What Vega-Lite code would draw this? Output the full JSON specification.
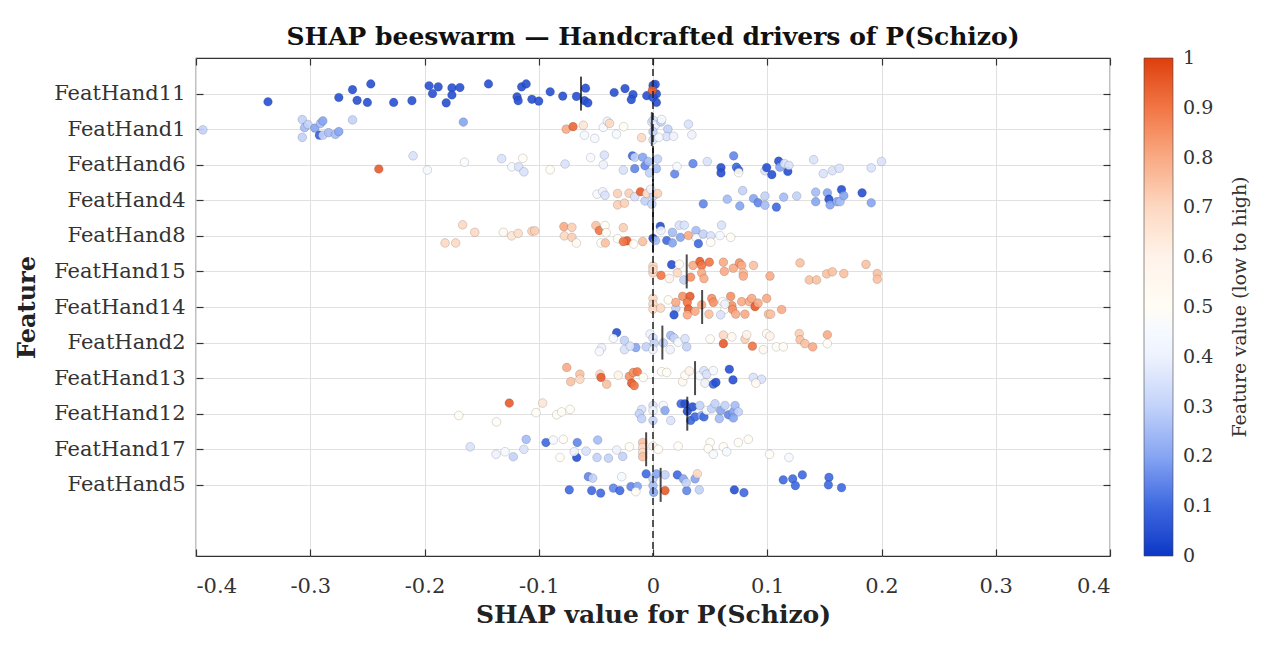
{
"$schema":"https://vega.github.io/schema/vega-lite/v6.json",
"autosize":{"type":"none"},
"padding":{"left":196,"top":58,"right":157,"bottom":89},
"width":914,"height":498,
"title":{"text":"SHAP beeswarm — Handcrafted drivers of P(Schizo)","font":"DejaVu Serif","fontSize":25,"fontWeight":"bold","color":"#111","anchor":"middle","frame":"group","offset":7},
"config":{
 "font":"DejaVu Serif",
 "view":{"stroke":"#333","strokeWidth":1.2},
 "axis":{"labelFont":"DejaVu Serif","titleFont":"DejaVu Serif","labelColor":"#333","titleColor":"#222","gridColor":"#e0e0e0","gridWidth":1,"domain":false,"tickColor":"#333","tickSize":-7,"tickWidth":1.2}
},
"datasets":{
"means":[
{"feature":"FeatHand11","mean":-0.063},{"feature":"FeatHand1","mean":-0.001},{"feature":"FeatHand6","mean":0.0},{"feature":"FeatHand4","mean":0.0},{"feature":"FeatHand8","mean":0.0},{"feature":"FeatHand15","mean":0.0295},{"feature":"FeatHand14","mean":0.043},{"feature":"FeatHand2","mean":0.0082},{"feature":"FeatHand13","mean":0.0368},{"feature":"FeatHand12","mean":0.030},{"feature":"FeatHand17","mean":-0.006},{"feature":"FeatHand5","mean":0.0067}
],
"pts":[
{"feature":"FeatHand11","shap":-0.337,"jit":-0.23,"val":0.05},
{"feature":"FeatHand11","shap":-0.275,"jit":-0.11,"val":0.05},
{"feature":"FeatHand11","shap":-0.263,"jit":0.11,"val":0.05},
{"feature":"FeatHand11","shap":-0.259,"jit":-0.19,"val":0.05},
{"feature":"FeatHand11","shap":-0.247,"jit":0.27,"val":0.05},
{"feature":"FeatHand11","shap":-0.25,"jit":-0.25,"val":0.05},
{"feature":"FeatHand11","shap":-0.227,"jit":-0.25,"val":0.05},
{"feature":"FeatHand11","shap":-0.211,"jit":-0.2,"val":0.05},
{"feature":"FeatHand11","shap":-0.196,"jit":0.22,"val":0.05},
{"feature":"FeatHand11","shap":-0.188,"jit":0.19,"val":0.05},
{"feature":"FeatHand11","shap":-0.193,"jit":0.0,"val":0.05},
{"feature":"FeatHand11","shap":-0.181,"jit":-0.26,"val":0.05},
{"feature":"FeatHand11","shap":-0.176,"jit":0.16,"val":0.05},
{"feature":"FeatHand11","shap":-0.176,"jit":-0.04,"val":0.05},
{"feature":"FeatHand11","shap":-0.169,"jit":0.17,"val":0.05},
{"feature":"FeatHand11","shap":-0.144,"jit":0.27,"val":0.05},
{"feature":"FeatHand11","shap":-0.119,"jit":-0.09,"val":0.05},
{"feature":"FeatHand11","shap":-0.118,"jit":-0.2,"val":0.05},
{"feature":"FeatHand11","shap":-0.115,"jit":0.19,"val":0.05},
{"feature":"FeatHand11","shap":-0.111,"jit":0.27,"val":0.05},
{"feature":"FeatHand11","shap":-0.106,"jit":-0.16,"val":0.05},
{"feature":"FeatHand11","shap":-0.1,"jit":-0.21,"val":0.05},
{"feature":"FeatHand11","shap":-0.09,"jit":0.05,"val":0.05},
{"feature":"FeatHand11","shap":-0.079,"jit":-0.07,"val":0.05},
{"feature":"FeatHand11","shap":-0.067,"jit":-0.08,"val":0.05},
{"feature":"FeatHand11","shap":-0.059,"jit":0.15,"val":0.05},
{"feature":"FeatHand11","shap":-0.06,"jit":-0.2,"val":0.05},
{"feature":"FeatHand11","shap":-0.057,"jit":-0.26,"val":0.05},
{"feature":"FeatHand11","shap":-0.034,"jit":0.03,"val":0.05},
{"feature":"FeatHand11","shap":-0.0245,"jit":0.14,"val":0.05},
{"feature":"FeatHand11","shap":-0.0175,"jit":-0.03,"val":0.05},
{"feature":"FeatHand11","shap":-0.019,"jit":-0.17,"val":0.05},
{"feature":"FeatHand11","shap":-0.0055,"jit":-0.06,"val":0.05},
{"feature":"FeatHand11","shap":0.0,"jit":0.23,"val":0.05},
{"feature":"FeatHand11","shap":0.002,"jit":0.26,"val":0.05},
{"feature":"FeatHand11","shap":0.003,"jit":-0.01,"val":0.05},
{"feature":"FeatHand11","shap":0.0,"jit":-0.11,"val":0.05},
{"feature":"FeatHand11","shap":0.003,"jit":-0.25,"val":0.05},
{"feature":"FeatHand11","shap":-0.0006,"jit":0.09,"val":0.95},
{"feature":"FeatHand1","shap":-0.394,"jit":-0.02,"val":0.3},
{"feature":"FeatHand1","shap":-0.307,"jit":0.27,"val":0.3},
{"feature":"FeatHand1","shap":-0.305,"jit":0.04,"val":0.25},
{"feature":"FeatHand1","shap":-0.307,"jit":-0.23,"val":0.3},
{"feature":"FeatHand1","shap":-0.302,"jit":0.13,"val":0.3},
{"feature":"FeatHand1","shap":-0.296,"jit":0.03,"val":0.2},
{"feature":"FeatHand1","shap":-0.292,"jit":-0.17,"val":0.08},
{"feature":"FeatHand1","shap":-0.291,"jit":0.16,"val":0.25},
{"feature":"FeatHand1","shap":-0.289,"jit":0.23,"val":0.2},
{"feature":"FeatHand1","shap":-0.289,"jit":-0.17,"val":0.3},
{"feature":"FeatHand1","shap":-0.284,"jit":-0.1,"val":0.25},
{"feature":"FeatHand1","shap":-0.278,"jit":-0.15,"val":0.25},
{"feature":"FeatHand1","shap":-0.275,"jit":-0.07,"val":0.2},
{"feature":"FeatHand1","shap":-0.263,"jit":0.26,"val":0.3},
{"feature":"FeatHand1","shap":-0.166,"jit":0.2,"val":0.2},
{"feature":"FeatHand1","shap":-0.076,"jit":0.0,"val":0.8},
{"feature":"FeatHand1","shap":-0.07,"jit":0.07,"val":0.93},
{"feature":"FeatHand1","shap":-0.061,"jit":0.11,"val":0.65},
{"feature":"FeatHand1","shap":-0.06,"jit":-0.17,"val":0.45},
{"feature":"FeatHand1","shap":-0.051,"jit":-0.26,"val":0.45},
{"feature":"FeatHand1","shap":-0.0435,"jit":0.05,"val":0.45},
{"feature":"FeatHand1","shap":-0.04,"jit":0.22,"val":0.4},
{"feature":"FeatHand1","shap":-0.038,"jit":0.16,"val":0.7},
{"feature":"FeatHand1","shap":-0.032,"jit":-0.14,"val":0.45},
{"feature":"FeatHand1","shap":-0.0257,"jit":0.07,"val":0.5},
{"feature":"FeatHand1","shap":-0.01,"jit":-0.24,"val":0.7},
{"feature":"FeatHand1","shap":-0.001,"jit":0.2,"val":0.35},
{"feature":"FeatHand1","shap":0.0,"jit":-0.3,"val":0.35},
{"feature":"FeatHand1","shap":0.0003,"jit":0.25,"val":0.35},
{"feature":"FeatHand1","shap":0.002,"jit":0.11,"val":0.4},
{"feature":"FeatHand1","shap":0.007,"jit":0.2,"val":0.3},
{"feature":"FeatHand1","shap":0.0076,"jit":0.27,"val":0.45},
{"feature":"FeatHand1","shap":0.013,"jit":0.0,"val":0.3},
{"feature":"FeatHand1","shap":0.012,"jit":-0.21,"val":0.35},
{"feature":"FeatHand1","shap":0.018,"jit":-0.2,"val":0.4},
{"feature":"FeatHand1","shap":0.031,"jit":0.14,"val":0.35},
{"feature":"FeatHand1","shap":0.034,"jit":-0.16,"val":0.4},
{"feature":"FeatHand1","shap":0.005,"jit":-0.23,"val":0.45},
{"feature":"FeatHand1","shap":0.0,"jit":-0.07,"val":0.3},
{"feature":"FeatHand6","shap":-0.24,"jit":-0.12,"val":0.95},
{"feature":"FeatHand6","shap":-0.21,"jit":0.25,"val":0.35},
{"feature":"FeatHand6","shap":-0.1975,"jit":-0.15,"val":0.45},
{"feature":"FeatHand6","shap":-0.165,"jit":0.07,"val":0.48},
{"feature":"FeatHand6","shap":-0.1325,"jit":0.17,"val":0.35},
{"feature":"FeatHand6","shap":-0.1235,"jit":-0.06,"val":0.45},
{"feature":"FeatHand6","shap":-0.1176,"jit":-0.06,"val":0.35},
{"feature":"FeatHand6","shap":-0.114,"jit":0.18,"val":0.5},
{"feature":"FeatHand6","shap":-0.113,"jit":-0.2,"val":0.35},
{"feature":"FeatHand6","shap":-0.09,"jit":-0.14,"val":0.5},
{"feature":"FeatHand6","shap":-0.077,"jit":0.02,"val":0.35},
{"feature":"FeatHand6","shap":-0.0546,"jit":0.2,"val":0.45},
{"feature":"FeatHand6","shap":-0.0426,"jit":0.27,"val":0.35},
{"feature":"FeatHand6","shap":-0.0435,"jit":0.0,"val":0.4},
{"feature":"FeatHand6","shap":-0.026,"jit":-0.15,"val":0.35},
{"feature":"FeatHand6","shap":-0.018,"jit":0.25,"val":0.1},
{"feature":"FeatHand6","shap":-0.016,"jit":0.21,"val":0.3},
{"feature":"FeatHand6","shap":-0.016,"jit":-0.11,"val":0.15},
{"feature":"FeatHand6","shap":-0.009,"jit":0.21,"val":0.2},
{"feature":"FeatHand6","shap":-0.007,"jit":-0.03,"val":0.15},
{"feature":"FeatHand6","shap":-0.004,"jit":0.09,"val":0.25},
{"feature":"FeatHand6","shap":-0.003,"jit":-0.23,"val":0.3},
{"feature":"FeatHand6","shap":0.004,"jit":0.16,"val":0.3},
{"feature":"FeatHand6","shap":0.003,"jit":-0.11,"val":0.25},
{"feature":"FeatHand6","shap":0.019,"jit":-0.26,"val":0.15},
{"feature":"FeatHand6","shap":0.021,"jit":-0.05,"val":0.45},
{"feature":"FeatHand6","shap":0.035,"jit":0.03,"val":0.15},
{"feature":"FeatHand6","shap":0.0475,"jit":0.09,"val":0.35},
{"feature":"FeatHand6","shap":0.0595,"jit":-0.08,"val":0.05},
{"feature":"FeatHand6","shap":0.0595,"jit":-0.23,"val":0.05},
{"feature":"FeatHand6","shap":0.0706,"jit":0.25,"val":0.15},
{"feature":"FeatHand6","shap":0.073,"jit":-0.07,"val":0.1},
{"feature":"FeatHand6","shap":0.075,"jit":-0.15,"val":0.1},
{"feature":"FeatHand6","shap":0.075,"jit":-0.22,"val":0.5},
{"feature":"FeatHand6","shap":0.098,"jit":-0.17,"val":0.35},
{"feature":"FeatHand6","shap":0.0995,"jit":-0.08,"val":0.05},
{"feature":"FeatHand6","shap":0.104,"jit":-0.28,"val":0.05},
{"feature":"FeatHand6","shap":0.11,"jit":0.1,"val":0.05},
{"feature":"FeatHand6","shap":0.111,"jit":-0.07,"val":0.2},
{"feature":"FeatHand6","shap":0.115,"jit":0.03,"val":0.35},
{"feature":"FeatHand6","shap":0.118,"jit":-0.19,"val":0.05},
{"feature":"FeatHand6","shap":0.119,"jit":-0.02,"val":0.35},
{"feature":"FeatHand6","shap":0.1406,"jit":0.14,"val":0.35},
{"feature":"FeatHand6","shap":0.149,"jit":-0.25,"val":0.35},
{"feature":"FeatHand6","shap":0.157,"jit":-0.17,"val":0.35},
{"feature":"FeatHand6","shap":0.163,"jit":-0.1,"val":0.35},
{"feature":"FeatHand6","shap":0.191,"jit":-0.09,"val":0.35},
{"feature":"FeatHand6","shap":0.2,"jit":0.09,"val":0.35},
{"feature":"FeatHand4","shap":-0.049,"jit":0.17,"val":0.45},
{"feature":"FeatHand4","shap":-0.044,"jit":0.24,"val":0.4},
{"feature":"FeatHand4","shap":-0.042,"jit":0.14,"val":0.35},
{"feature":"FeatHand4","shap":-0.031,"jit":0.19,"val":0.72},
{"feature":"FeatHand4","shap":-0.031,"jit":-0.13,"val":0.72},
{"feature":"FeatHand4","shap":-0.025,"jit":-0.08,"val":0.72},
{"feature":"FeatHand4","shap":-0.021,"jit":0.2,"val":0.72},
{"feature":"FeatHand4","shap":-0.016,"jit":0.1,"val":0.35},
{"feature":"FeatHand4","shap":-0.011,"jit":0.24,"val":0.95},
{"feature":"FeatHand4","shap":-0.007,"jit":-0.02,"val":0.3},
{"feature":"FeatHand4","shap":-0.0055,"jit":0.19,"val":0.7},
{"feature":"FeatHand4","shap":0.0003,"jit":0.12,"val":0.3},
{"feature":"FeatHand4","shap":-0.001,"jit":-0.11,"val":0.3},
{"feature":"FeatHand4","shap":0.004,"jit":0.19,"val":0.72},
{"feature":"FeatHand4","shap":-0.002,"jit":0.31,"val":0.4},
{"feature":"FeatHand4","shap":0.044,"jit":-0.1,"val":0.15},
{"feature":"FeatHand4","shap":0.065,"jit":0.03,"val":0.25},
{"feature":"FeatHand4","shap":0.076,"jit":-0.16,"val":0.2},
{"feature":"FeatHand4","shap":0.0785,"jit":0.27,"val":0.3},
{"feature":"FeatHand4","shap":0.088,"jit":0.05,"val":0.2},
{"feature":"FeatHand4","shap":0.092,"jit":-0.07,"val":0.15},
{"feature":"FeatHand4","shap":0.098,"jit":0.12,"val":0.3},
{"feature":"FeatHand4","shap":0.098,"jit":-0.14,"val":0.25},
{"feature":"FeatHand4","shap":0.108,"jit":-0.19,"val":0.1},
{"feature":"FeatHand4","shap":0.1144,"jit":0.09,"val":0.25},
{"feature":"FeatHand4","shap":0.1258,"jit":0.12,"val":0.3},
{"feature":"FeatHand4","shap":0.1424,"jit":0.23,"val":0.25},
{"feature":"FeatHand4","shap":0.1424,"jit":-0.04,"val":0.2},
{"feature":"FeatHand4","shap":0.1526,"jit":0.21,"val":0.2},
{"feature":"FeatHand4","shap":0.154,"jit":0.03,"val":0.05},
{"feature":"FeatHand4","shap":0.155,"jit":-0.13,"val":0.2},
{"feature":"FeatHand4","shap":0.161,"jit":-0.04,"val":0.2},
{"feature":"FeatHand4","shap":0.1637,"jit":-0.04,"val":0.25},
{"feature":"FeatHand4","shap":0.165,"jit":0.3,"val":0.05},
{"feature":"FeatHand4","shap":0.167,"jit":0.13,"val":0.2},
{"feature":"FeatHand4","shap":0.183,"jit":0.21,"val":0.05},
{"feature":"FeatHand4","shap":0.191,"jit":-0.07,"val":0.2},
{"feature":"FeatHand8","shap":-0.182,"jit":-0.2,"val":0.7},
{"feature":"FeatHand8","shap":-0.1727,"jit":-0.2,"val":0.7},
{"feature":"FeatHand8","shap":-0.1666,"jit":0.31,"val":0.7},
{"feature":"FeatHand8","shap":-0.156,"jit":0.1,"val":0.7},
{"feature":"FeatHand8","shap":-0.131,"jit":0.1,"val":0.55},
{"feature":"FeatHand8","shap":-0.1237,"jit":0.0,"val":0.65},
{"feature":"FeatHand8","shap":-0.118,"jit":0.07,"val":0.68},
{"feature":"FeatHand8","shap":-0.106,"jit":0.13,"val":0.72},
{"feature":"FeatHand8","shap":-0.1035,"jit":0.14,"val":0.72},
{"feature":"FeatHand8","shap":-0.078,"jit":0.26,"val":0.8},
{"feature":"FeatHand8","shap":-0.0776,"jit":0.0,"val":0.7},
{"feature":"FeatHand8","shap":-0.071,"jit":0.24,"val":0.72},
{"feature":"FeatHand8","shap":-0.071,"jit":-0.04,"val":0.72},
{"feature":"FeatHand8","shap":-0.067,"jit":-0.2,"val":0.55},
{"feature":"FeatHand8","shap":-0.05,"jit":0.29,"val":0.75},
{"feature":"FeatHand8","shap":-0.047,"jit":0.15,"val":0.9},
{"feature":"FeatHand8","shap":-0.042,"jit":0.29,"val":0.5},
{"feature":"FeatHand8","shap":-0.0455,"jit":-0.2,"val":0.5},
{"feature":"FeatHand8","shap":-0.0417,"jit":-0.2,"val":0.75},
{"feature":"FeatHand8","shap":-0.041,"jit":0.09,"val":0.5},
{"feature":"FeatHand8","shap":-0.026,"jit":0.23,"val":0.72},
{"feature":"FeatHand8","shap":-0.031,"jit":-0.08,"val":0.5},
{"feature":"FeatHand8","shap":-0.0227,"jit":-0.14,"val":0.95},
{"feature":"FeatHand8","shap":-0.026,"jit":-0.16,"val":0.9},
{"feature":"FeatHand8","shap":-0.017,"jit":-0.23,"val":0.5},
{"feature":"FeatHand8","shap":-0.009,"jit":-0.16,"val":0.75},
{"feature":"FeatHand8","shap":0.0,"jit":-0.07,"val":0.05},
{"feature":"FeatHand8","shap":0.0023,"jit":-0.13,"val":0.25},
{"feature":"FeatHand8","shap":0.0064,"jit":0.27,"val":0.05},
{"feature":"FeatHand8","shap":0.007,"jit":0.15,"val":0.4},
{"feature":"FeatHand8","shap":0.012,"jit":-0.13,"val":0.1},
{"feature":"FeatHand8","shap":0.017,"jit":0.1,"val":0.25},
{"feature":"FeatHand8","shap":0.017,"jit":-0.2,"val":0.2},
{"feature":"FeatHand8","shap":0.023,"jit":0.3,"val":0.35},
{"feature":"FeatHand8","shap":0.0274,"jit":0.3,"val":0.35},
{"feature":"FeatHand8","shap":0.024,"jit":-0.04,"val":0.2},
{"feature":"FeatHand8","shap":0.031,"jit":0.01,"val":0.8},
{"feature":"FeatHand8","shap":0.0376,"jit":0.15,"val":0.25},
{"feature":"FeatHand8","shap":0.038,"jit":-0.06,"val":0.45},
{"feature":"FeatHand8","shap":0.0397,"jit":-0.22,"val":0.1},
{"feature":"FeatHand8","shap":0.044,"jit":0.05,"val":0.3},
{"feature":"FeatHand8","shap":0.0505,"jit":0.0,"val":0.35},
{"feature":"FeatHand8","shap":0.0505,"jit":-0.18,"val":0.5},
{"feature":"FeatHand8","shap":0.06,"jit":0.3,"val":0.35},
{"feature":"FeatHand8","shap":0.0586,"jit":0.01,"val":0.45},
{"feature":"FeatHand8","shap":0.068,"jit":-0.04,"val":0.5},
{"feature":"FeatHand15","shap":0.0,"jit":0.15,"val":0.7},
{"feature":"FeatHand15","shap":0.0,"jit":-0.04,"val":0.7},
{"feature":"FeatHand15","shap":0.0,"jit":0.06,"val":0.7},
{"feature":"FeatHand15","shap":0.0163,"jit":0.19,"val":0.05},
{"feature":"FeatHand15","shap":0.023,"jit":0.2,"val":0.5},
{"feature":"FeatHand15","shap":0.007,"jit":-0.11,"val":0.9},
{"feature":"FeatHand15","shap":0.0143,"jit":-0.2,"val":0.6},
{"feature":"FeatHand15","shap":0.0213,"jit":-0.04,"val":0.7},
{"feature":"FeatHand15","shap":0.027,"jit":-0.24,"val":0.3},
{"feature":"FeatHand15","shap":0.033,"jit":-0.16,"val":0.85},
{"feature":"FeatHand15","shap":0.035,"jit":0.17,"val":0.8},
{"feature":"FeatHand15","shap":0.041,"jit":0.28,"val":0.95},
{"feature":"FeatHand15","shap":0.0426,"jit":0.17,"val":0.9},
{"feature":"FeatHand15","shap":0.0493,"jit":0.26,"val":0.9},
{"feature":"FeatHand15","shap":0.0426,"jit":-0.04,"val":0.8},
{"feature":"FeatHand15","shap":0.0446,"jit":-0.2,"val":0.8},
{"feature":"FeatHand15","shap":0.0616,"jit":0.26,"val":0.8},
{"feature":"FeatHand15","shap":0.0624,"jit":0.0,"val":0.8},
{"feature":"FeatHand15","shap":0.0703,"jit":0.09,"val":0.8},
{"feature":"FeatHand15","shap":0.0756,"jit":0.24,"val":0.85},
{"feature":"FeatHand15","shap":0.0776,"jit":0.17,"val":0.8},
{"feature":"FeatHand15","shap":0.079,"jit":-0.04,"val":0.75},
{"feature":"FeatHand15","shap":0.079,"jit":-0.13,"val":0.8},
{"feature":"FeatHand15","shap":0.088,"jit":0.17,"val":0.75},
{"feature":"FeatHand15","shap":0.1024,"jit":-0.13,"val":0.8},
{"feature":"FeatHand15","shap":0.1287,"jit":0.24,"val":0.75},
{"feature":"FeatHand15","shap":0.1368,"jit":-0.24,"val":0.75},
{"feature":"FeatHand15","shap":0.1432,"jit":-0.24,"val":0.75},
{"feature":"FeatHand15","shap":0.152,"jit":-0.07,"val":0.75},
{"feature":"FeatHand15","shap":0.157,"jit":-0.01,"val":0.75},
{"feature":"FeatHand15","shap":0.167,"jit":-0.06,"val":0.75},
{"feature":"FeatHand15","shap":0.1864,"jit":0.2,"val":0.75},
{"feature":"FeatHand15","shap":0.1963,"jit":-0.06,"val":0.75},
{"feature":"FeatHand15","shap":0.1963,"jit":-0.22,"val":0.75},
{"feature":"FeatHand14","shap":0.0,"jit":0.24,"val":0.7},
{"feature":"FeatHand14","shap":0.0,"jit":0.08,"val":0.7},
{"feature":"FeatHand14","shap":0.0,"jit":-0.06,"val":0.7},
{"feature":"FeatHand14","shap":0.0067,"jit":-0.03,"val":0.7},
{"feature":"FeatHand14","shap":0.0134,"jit":0.2,"val":0.5},
{"feature":"FeatHand14","shap":0.02,"jit":-0.04,"val":0.3},
{"feature":"FeatHand14","shap":0.0184,"jit":-0.22,"val":0.05},
{"feature":"FeatHand14","shap":0.02,"jit":0.13,"val":0.8},
{"feature":"FeatHand14","shap":0.026,"jit":0.3,"val":0.85},
{"feature":"FeatHand14","shap":0.0324,"jit":0.3,"val":0.95},
{"feature":"FeatHand14","shap":0.03,"jit":0.13,"val":0.9},
{"feature":"FeatHand14","shap":0.031,"jit":-0.06,"val":0.95},
{"feature":"FeatHand14","shap":0.0368,"jit":-0.12,"val":0.8},
{"feature":"FeatHand14","shap":0.03,"jit":-0.22,"val":0.8},
{"feature":"FeatHand14","shap":0.0426,"jit":0.06,"val":0.8},
{"feature":"FeatHand14","shap":0.0514,"jit":0.24,"val":0.85},
{"feature":"FeatHand14","shap":0.0528,"jit":0.13,"val":0.85},
{"feature":"FeatHand14","shap":0.049,"jit":-0.2,"val":0.75},
{"feature":"FeatHand14","shap":0.061,"jit":0.15,"val":0.5},
{"feature":"FeatHand14","shap":0.063,"jit":-0.06,"val":0.5},
{"feature":"FeatHand14","shap":0.068,"jit":0.3,"val":0.85},
{"feature":"FeatHand14","shap":0.069,"jit":0.04,"val":0.85},
{"feature":"FeatHand14","shap":0.0697,"jit":-0.07,"val":0.85},
{"feature":"FeatHand14","shap":0.0724,"jit":-0.2,"val":0.8},
{"feature":"FeatHand14","shap":0.0776,"jit":0.15,"val":0.8},
{"feature":"FeatHand14","shap":0.0843,"jit":0.15,"val":0.8},
{"feature":"FeatHand14","shap":0.0864,"jit":0.24,"val":0.8},
{"feature":"FeatHand14","shap":0.0893,"jit":0.01,"val":0.95},
{"feature":"FeatHand14","shap":0.092,"jit":0.11,"val":0.8},
{"feature":"FeatHand14","shap":0.0805,"jit":-0.2,"val":0.8},
{"feature":"FeatHand14","shap":0.0995,"jit":0.24,"val":0.8},
{"feature":"FeatHand14","shap":0.101,"jit":-0.2,"val":0.75},
{"feature":"FeatHand14","shap":0.103,"jit":-0.2,"val":0.75},
{"feature":"FeatHand14","shap":0.1126,"jit":-0.07,"val":0.8},
{"feature":"FeatHand14","shap":0.0592,"jit":-0.22,"val":0.35},
{"feature":"FeatHand14","shap":0.063,"jit":0.08,"val":0.4},
{"feature":"FeatHand2","shap":-0.0318,"jit":0.28,"val":0.05},
{"feature":"FeatHand2","shap":-0.0347,"jit":0.12,"val":0.45},
{"feature":"FeatHand2","shap":-0.025,"jit":0.06,"val":0.3},
{"feature":"FeatHand2","shap":-0.045,"jit":-0.15,"val":0.4},
{"feature":"FeatHand2","shap":-0.047,"jit":-0.25,"val":0.45},
{"feature":"FeatHand2","shap":-0.025,"jit":-0.2,"val":0.35},
{"feature":"FeatHand2","shap":-0.015,"jit":-0.14,"val":0.2},
{"feature":"FeatHand2","shap":-0.02,"jit":-0.1,"val":0.35},
{"feature":"FeatHand2","shap":-0.006,"jit":-0.12,"val":0.3},
{"feature":"FeatHand2","shap":-0.0026,"jit":0.24,"val":0.4},
{"feature":"FeatHand2","shap":0.0,"jit":0.13,"val":0.35},
{"feature":"FeatHand2","shap":0.001,"jit":-0.02,"val":0.3},
{"feature":"FeatHand2","shap":0.0,"jit":-0.2,"val":0.4},
{"feature":"FeatHand2","shap":0.009,"jit":-0.01,"val":0.3},
{"feature":"FeatHand2","shap":0.0155,"jit":0.2,"val":0.25},
{"feature":"FeatHand2","shap":0.0184,"jit":0.13,"val":0.3},
{"feature":"FeatHand2","shap":0.015,"jit":-0.2,"val":0.4},
{"feature":"FeatHand2","shap":0.022,"jit":0.01,"val":0.45},
{"feature":"FeatHand2","shap":0.028,"jit":0.11,"val":0.35},
{"feature":"FeatHand2","shap":0.0295,"jit":-0.12,"val":0.3},
{"feature":"FeatHand2","shap":0.05,"jit":0.1,"val":0.5},
{"feature":"FeatHand2","shap":0.0616,"jit":0.21,"val":0.7},
{"feature":"FeatHand2","shap":0.0616,"jit":-0.03,"val":0.95},
{"feature":"FeatHand2","shap":0.069,"jit":0.16,"val":0.55},
{"feature":"FeatHand2","shap":0.0805,"jit":0.1,"val":0.72},
{"feature":"FeatHand2","shap":0.082,"jit":0.22,"val":0.6},
{"feature":"FeatHand2","shap":0.087,"jit":-0.1,"val":0.9},
{"feature":"FeatHand2","shap":0.0966,"jit":-0.2,"val":0.55},
{"feature":"FeatHand2","shap":0.0995,"jit":0.25,"val":0.55},
{"feature":"FeatHand2","shap":0.1024,"jit":0.18,"val":0.6},
{"feature":"FeatHand2","shap":0.108,"jit":-0.12,"val":0.5},
{"feature":"FeatHand2","shap":0.114,"jit":-0.12,"val":0.5},
{"feature":"FeatHand2","shap":0.128,"jit":0.25,"val":0.72},
{"feature":"FeatHand2","shap":0.1287,"jit":0.08,"val":0.75},
{"feature":"FeatHand2","shap":0.133,"jit":-0.03,"val":0.75},
{"feature":"FeatHand2","shap":0.1398,"jit":-0.12,"val":0.8},
{"feature":"FeatHand2","shap":0.1526,"jit":0.22,"val":0.8},
{"feature":"FeatHand2","shap":0.1526,"jit":-0.03,"val":0.5},
{"feature":"FeatHand13","shap":-0.0755,"jit":0.3,"val":0.8},
{"feature":"FeatHand13","shap":-0.072,"jit":-0.1,"val":0.75},
{"feature":"FeatHand13","shap":-0.064,"jit":0.11,"val":0.75},
{"feature":"FeatHand13","shap":-0.064,"jit":-0.03,"val":0.7},
{"feature":"FeatHand13","shap":-0.0464,"jit":0.11,"val":0.7},
{"feature":"FeatHand13","shap":-0.0455,"jit":0.02,"val":0.95},
{"feature":"FeatHand13","shap":-0.0405,"jit":-0.17,"val":0.75},
{"feature":"FeatHand13","shap":-0.0304,"jit":0.08,"val":0.6},
{"feature":"FeatHand13","shap":-0.0207,"jit":0.05,"val":0.85},
{"feature":"FeatHand13","shap":-0.0172,"jit":0.16,"val":0.85},
{"feature":"FeatHand13","shap":-0.0137,"jit":0.18,"val":0.9},
{"feature":"FeatHand13","shap":-0.0187,"jit":-0.14,"val":0.95},
{"feature":"FeatHand13","shap":-0.0164,"jit":-0.21,"val":0.9},
{"feature":"FeatHand13","shap":-0.0085,"jit":0.02,"val":0.5},
{"feature":"FeatHand13","shap":0.0076,"jit":0.18,"val":0.5},
{"feature":"FeatHand13","shap":0.012,"jit":0.16,"val":0.5},
{"feature":"FeatHand13","shap":0.026,"jit":-0.1,"val":0.55},
{"feature":"FeatHand13","shap":0.028,"jit":0.08,"val":0.5},
{"feature":"FeatHand13","shap":0.0318,"jit":0.2,"val":0.6},
{"feature":"FeatHand13","shap":0.041,"jit":0.07,"val":0.45},
{"feature":"FeatHand13","shap":0.0446,"jit":0.21,"val":0.35},
{"feature":"FeatHand13","shap":0.0455,"jit":-0.14,"val":0.4},
{"feature":"FeatHand13","shap":0.047,"jit":0.11,"val":0.35},
{"feature":"FeatHand13","shap":0.0528,"jit":-0.17,"val":0.1},
{"feature":"FeatHand13","shap":0.0551,"jit":-0.12,"val":0.05},
{"feature":"FeatHand13","shap":0.0528,"jit":0.21,"val":0.45},
{"feature":"FeatHand13","shap":0.0668,"jit":0.25,"val":0.05},
{"feature":"FeatHand13","shap":0.07,"jit":-0.05,"val":0.05},
{"feature":"FeatHand13","shap":0.0878,"jit":0.02,"val":0.35},
{"feature":"FeatHand13","shap":0.095,"jit":-0.03,"val":0.35},
{"feature":"FeatHand13","shap":0.09,"jit":-0.14,"val":0.55},
{"feature":"FeatHand12","shap":-0.1258,"jit":0.3,"val":0.95},
{"feature":"FeatHand12","shap":-0.0966,"jit":0.3,"val":0.65},
{"feature":"FeatHand12","shap":-0.17,"jit":-0.05,"val":0.5},
{"feature":"FeatHand12","shap":-0.137,"jit":-0.23,"val":0.5},
{"feature":"FeatHand12","shap":-0.1024,"jit":0.03,"val":0.5},
{"feature":"FeatHand12","shap":-0.0843,"jit":-0.03,"val":0.5},
{"feature":"FeatHand12","shap":-0.08,"jit":0.05,"val":0.5},
{"feature":"FeatHand12","shap":-0.0726,"jit":0.12,"val":0.5},
{"feature":"FeatHand12","shap":-0.0099,"jit":0.12,"val":0.35},
{"feature":"FeatHand12","shap":-0.012,"jit":0.0,"val":0.3},
{"feature":"FeatHand12","shap":-0.0099,"jit":-0.14,"val":0.3},
{"feature":"FeatHand12","shap":0.0,"jit":0.23,"val":0.35},
{"feature":"FeatHand12","shap":0.0,"jit":0.09,"val":0.4},
{"feature":"FeatHand12","shap":0.0,"jit":-0.19,"val":0.3},
{"feature":"FeatHand12","shap":0.009,"jit":0.23,"val":0.45},
{"feature":"FeatHand12","shap":0.0105,"jit":0.09,"val":0.2},
{"feature":"FeatHand12","shap":0.0155,"jit":-0.19,"val":0.35},
{"feature":"FeatHand12","shap":0.0245,"jit":0.28,"val":0.1},
{"feature":"FeatHand12","shap":0.028,"jit":0.28,"val":0.05},
{"feature":"FeatHand12","shap":0.03,"jit":0.07,"val":0.05},
{"feature":"FeatHand12","shap":0.0347,"jit":0.19,"val":0.05},
{"feature":"FeatHand12","shap":0.033,"jit":-0.19,"val":0.1},
{"feature":"FeatHand12","shap":0.0368,"jit":-0.09,"val":0.1},
{"feature":"FeatHand12","shap":0.041,"jit":0.23,"val":0.3},
{"feature":"FeatHand12","shap":0.0426,"jit":-0.05,"val":0.2},
{"feature":"FeatHand12","shap":0.0446,"jit":-0.09,"val":0.1},
{"feature":"FeatHand12","shap":0.047,"jit":0.09,"val":0.45},
{"feature":"FeatHand12","shap":0.0514,"jit":0.14,"val":0.3},
{"feature":"FeatHand12","shap":0.0543,"jit":0.28,"val":0.3},
{"feature":"FeatHand12","shap":0.058,"jit":-0.14,"val":0.25},
{"feature":"FeatHand12","shap":0.0592,"jit":0.09,"val":0.2},
{"feature":"FeatHand12","shap":0.063,"jit":0.23,"val":0.3},
{"feature":"FeatHand12","shap":0.066,"jit":-0.03,"val":0.15},
{"feature":"FeatHand12","shap":0.0703,"jit":0.05,"val":0.2},
{"feature":"FeatHand12","shap":0.0718,"jit":0.23,"val":0.25},
{"feature":"FeatHand12","shap":0.0747,"jit":0.05,"val":0.3},
{"feature":"FeatHand12","shap":0.0703,"jit":-0.12,"val":0.2},
{"feature":"FeatHand17","shap":-0.16,"jit":0.07,"val":0.35},
{"feature":"FeatHand17","shap":-0.1374,"jit":-0.14,"val":0.4},
{"feature":"FeatHand17","shap":-0.1295,"jit":-0.07,"val":0.45},
{"feature":"FeatHand17","shap":-0.1223,"jit":-0.21,"val":0.3},
{"feature":"FeatHand17","shap":-0.113,"jit":0.0,"val":0.35},
{"feature":"FeatHand17","shap":-0.111,"jit":0.28,"val":0.25},
{"feature":"FeatHand17","shap":-0.0937,"jit":0.19,"val":0.1},
{"feature":"FeatHand17","shap":-0.0873,"jit":0.26,"val":0.45},
{"feature":"FeatHand17","shap":-0.0785,"jit":0.28,"val":0.5},
{"feature":"FeatHand17","shap":-0.0814,"jit":-0.23,"val":0.5},
{"feature":"FeatHand17","shap":-0.0663,"jit":0.19,"val":0.15},
{"feature":"FeatHand17","shap":-0.0668,"jit":-0.23,"val":0.05},
{"feature":"FeatHand17","shap":-0.069,"jit":-0.07,"val":0.4},
{"feature":"FeatHand17","shap":-0.0586,"jit":-0.05,"val":0.35},
{"feature":"FeatHand17","shap":-0.0484,"jit":0.26,"val":0.25},
{"feature":"FeatHand17","shap":-0.049,"jit":-0.23,"val":0.3},
{"feature":"FeatHand17","shap":-0.039,"jit":-0.25,"val":0.3},
{"feature":"FeatHand17","shap":-0.0318,"jit":-0.02,"val":0.4},
{"feature":"FeatHand17","shap":-0.0265,"jit":-0.2,"val":0.3},
{"feature":"FeatHand17","shap":-0.0207,"jit":0.07,"val":0.5},
{"feature":"FeatHand17","shap":-0.009,"jit":0.19,"val":0.75},
{"feature":"FeatHand17","shap":-0.009,"jit":0.05,"val":0.7},
{"feature":"FeatHand17","shap":-0.009,"jit":-0.09,"val":0.7},
{"feature":"FeatHand17","shap":-0.009,"jit":-0.21,"val":0.75},
{"feature":"FeatHand17","shap":0.0,"jit":0.09,"val":0.6},
{"feature":"FeatHand17","shap":0.0047,"jit":0.0,"val":0.5},
{"feature":"FeatHand17","shap":0.022,"jit":0.09,"val":0.5},
{"feature":"FeatHand17","shap":0.05,"jit":0.19,"val":0.5},
{"feature":"FeatHand17","shap":0.0484,"jit":0.02,"val":0.5},
{"feature":"FeatHand17","shap":0.0528,"jit":-0.14,"val":0.45},
{"feature":"FeatHand17","shap":0.0616,"jit":0.07,"val":0.5},
{"feature":"FeatHand17","shap":0.0645,"jit":-0.07,"val":0.45},
{"feature":"FeatHand17","shap":0.0747,"jit":0.19,"val":0.5},
{"feature":"FeatHand17","shap":0.0834,"jit":0.28,"val":0.5},
{"feature":"FeatHand17","shap":0.102,"jit":-0.14,"val":0.5},
{"feature":"FeatHand17","shap":0.119,"jit":-0.23,"val":0.45},
{"feature":"FeatHand5","shap":-0.0733,"jit":-0.14,"val":0.1},
{"feature":"FeatHand5","shap":-0.0566,"jit":0.23,"val":0.15},
{"feature":"FeatHand5","shap":-0.0528,"jit":0.19,"val":0.3},
{"feature":"FeatHand5","shap":-0.0537,"jit":-0.16,"val":0.1},
{"feature":"FeatHand5","shap":-0.0458,"jit":-0.23,"val":0.1},
{"feature":"FeatHand5","shap":-0.0347,"jit":-0.09,"val":0.15},
{"feature":"FeatHand5","shap":-0.029,"jit":-0.16,"val":0.1},
{"feature":"FeatHand5","shap":-0.0274,"jit":0.23,"val":0.45},
{"feature":"FeatHand5","shap":-0.0193,"jit":-0.05,"val":0.15},
{"feature":"FeatHand5","shap":-0.0137,"jit":-0.04,"val":0.2},
{"feature":"FeatHand5","shap":-0.015,"jit":-0.19,"val":0.5},
{"feature":"FeatHand5","shap":-0.006,"jit":0.31,"val":0.1},
{"feature":"FeatHand5","shap":0.0,"jit":0.17,"val":0.3},
{"feature":"FeatHand5","shap":0.0,"jit":-0.02,"val":0.25},
{"feature":"FeatHand5","shap":0.0006,"jit":-0.21,"val":0.2},
{"feature":"FeatHand5","shap":0.003,"jit":0.31,"val":0.2},
{"feature":"FeatHand5","shap":0.0105,"jit":0.28,"val":0.3},
{"feature":"FeatHand5","shap":0.0105,"jit":-0.16,"val":0.95},
{"feature":"FeatHand5","shap":0.0213,"jit":0.28,"val":0.1},
{"feature":"FeatHand5","shap":0.0265,"jit":0.17,"val":0.2},
{"feature":"FeatHand5","shap":0.0295,"jit":-0.16,"val":0.15},
{"feature":"FeatHand5","shap":0.029,"jit":0.06,"val":0.3},
{"feature":"FeatHand5","shap":0.0368,"jit":0.17,"val":0.2},
{"feature":"FeatHand5","shap":0.0388,"jit":0.31,"val":0.7},
{"feature":"FeatHand5","shap":0.0405,"jit":-0.14,"val":0.3},
{"feature":"FeatHand5","shap":0.0712,"jit":-0.14,"val":0.05},
{"feature":"FeatHand5","shap":0.0796,"jit":-0.22,"val":0.1},
{"feature":"FeatHand5","shap":0.114,"jit":0.14,"val":0.1},
{"feature":"FeatHand5","shap":0.1223,"jit":0.17,"val":0.1},
{"feature":"FeatHand5","shap":0.1246,"jit":-0.02,"val":0.1},
{"feature":"FeatHand5","shap":0.1307,"jit":0.28,"val":0.1},
{"feature":"FeatHand5","shap":0.154,"jit":0.21,"val":0.1},
{"feature":"FeatHand5","shap":0.1535,"jit":0.0,"val":0.1},
{"feature":"FeatHand5","shap":0.165,"jit":-0.08,"val":0.1}
]
},
"layer":[
{
 "data":{"name":"pts"},
 "mark":{"type":"point","filled":true,"size":76,"fillOpacity":0.9,"stroke":"#000","strokeOpacity":0.14,"strokeWidth":1},
 "encoding":{
  "x":{"field":"shap","type":"quantitative","scale":{"domain":[-0.4,0.4],"nice":false,"zero":false},
   "axis":{"orient":"bottom","values":[-0.4,-0.3,-0.2,-0.1,0,0.1,0.2,0.3,0.4],"labelExpr":"(datum.value < 0 ? '-' : '') + format(abs(datum.value), '~g')","labelFontSize":21,"labelPadding":26,"grid":true,"title":"SHAP value for P(Schizo)","titleFontSize":25,"titleFontWeight":"bold","titlePadding":6}},
  "y":{"field":"feature","type":"nominal","scale":{"type":"point","domain":["FeatHand11","FeatHand1","FeatHand6","FeatHand4","FeatHand8","FeatHand15","FeatHand14","FeatHand2","FeatHand13","FeatHand12","FeatHand17","FeatHand5"," "],"padding":1},
   "axis":{"orient":"left","values":["FeatHand11","FeatHand1","FeatHand6","FeatHand4","FeatHand8","FeatHand15","FeatHand14","FeatHand2","FeatHand13","FeatHand12","FeatHand17","FeatHand5"],"labelFontSize":21,"labelPadding":18,"grid":true,"title":"Feature","titleFontSize":24,"titleFontWeight":"bold","titlePadding":14}},
  "yOffset":{"field":"jit","type":"quantitative","scale":{"domain":[-1,1],"range":[35.6,-35.6],"zero":false}},
  "color":{"field":"val","type":"quantitative",
   "scale":{"domain":[0,0.1,0.2,0.3,0.4,0.5,0.6,0.7,0.8,0.9,1],"range":["#0a37c4","#3d68e0","#86a5f2","#c2d2fa","#eef2fe","#ffffff","#fff3ea","#fdd8c2","#f9aa84","#f27545","#de3e0c"]},
   "legend":{"title":"Feature value (low to high)","orient":"right","offset":33,"direction":"vertical","gradientLength":498,"gradientThickness":29,"values":[0,0.1,0.2,0.3,0.4,0.5,0.6,0.7,0.8,0.9,1],"format":"~g","labelFont":"DejaVu Serif","labelFontSize":19,"labelColor":"#333","labelOffset":10,"labelOverlap":false,"titleFont":"DejaVu Serif","titleOrient":"right","titleLimit":600,"titleFontSize":19,"titleFontWeight":"normal","titleColor":"#333","titleAnchor":"middle","titlePadding":12,"gradientStrokeColor":"#444","gradientStrokeWidth":0.6,"padding":0,
    "encode":{"title":{"update":{"angle":{"value":-90},"dy":{"value":25}}},"labels":{"update":{"baseline":{"value":"middle"}}}}}}
 }
},
{
 "data":{"values":[{}]},
 "mark":{"type":"rule","strokeDash":[7,4],"strokeWidth":1.5,"color":"#222"},
 "encoding":{"x":{"datum":0,"type":"quantitative","scale":{"domain":[-0.4,0.4],"nice":false,"zero":false},"axis":null}}
},
{
 "data":{"name":"means"},
 "mark":{"type":"tick","orient":"vertical","size":34,"thickness":2,"color":"#000"},
 "encoding":{
  "x":{"field":"mean","type":"quantitative","scale":{"domain":[-0.4,0.4],"nice":false,"zero":false},
   "axis":{"orient":"top","values":[-0.4,-0.3,-0.2,-0.1,0,0.1,0.2,0.3,0.4],"labels":false,"grid":false,"title":null}},
  "y":{"field":"feature","type":"nominal","scale":{"type":"point","domain":["FeatHand11","FeatHand1","FeatHand6","FeatHand4","FeatHand8","FeatHand15","FeatHand14","FeatHand2","FeatHand13","FeatHand12","FeatHand17","FeatHand5"," "],"padding":1},
   "axis":{"orient":"right","values":["FeatHand11","FeatHand1","FeatHand6","FeatHand4","FeatHand8","FeatHand15","FeatHand14","FeatHand2","FeatHand13","FeatHand12","FeatHand17","FeatHand5"],"labels":false,"grid":false,"title":null}}
 }
}
],
"resolve":{"axis":{"x":"independent","y":"independent"}}
}
